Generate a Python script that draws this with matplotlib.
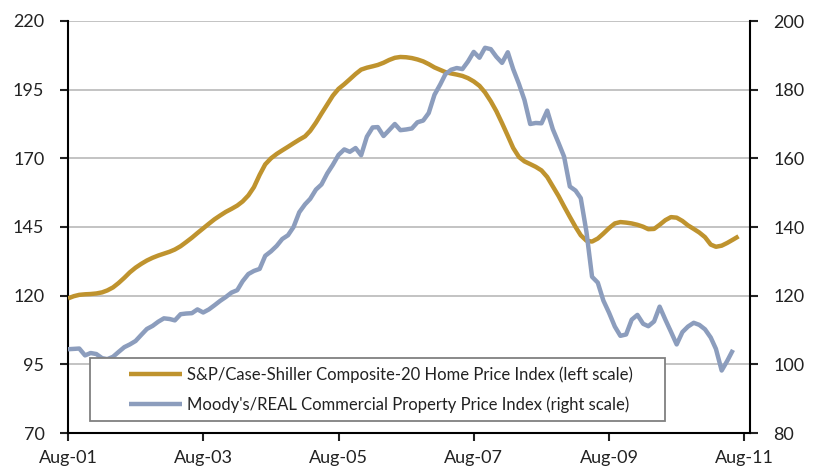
import matplotlib
matplotlib.use("Agg")
import matplotlib.pyplot as plt
import pandas as pd
from matplotlib.legend_handler import HandlerLine2D

plt.rcParams['font.family'] = ['Lato', 'DejaVu Sans']

start_date = '2001-08-01'

home_price = [
    119.0, 119.8, 120.3, 120.5, 120.6, 120.8, 121.2, 121.9, 123.0, 124.6,
    126.5, 128.5, 130.2, 131.6, 132.8, 133.8, 134.6, 135.3, 136.0, 136.8,
    138.0, 139.5, 141.1, 142.8, 144.5, 146.2, 147.8, 149.2, 150.5, 151.6,
    152.8, 154.3, 156.5, 159.5, 164.0, 167.8, 170.0, 171.6, 172.9, 174.2,
    175.5, 176.8, 178.0, 180.0, 183.0, 186.3, 189.6, 192.8, 195.3, 197.0,
    198.8, 200.7, 202.3, 203.0, 203.5, 204.0, 204.8, 205.8, 206.6, 206.9,
    206.8, 206.5, 206.0, 205.3, 204.3, 203.1, 202.2, 201.4, 200.9, 200.5,
    200.0, 199.2, 198.0, 196.4, 194.0, 190.8, 187.2, 182.8, 178.2, 173.8,
    170.5, 168.9, 167.9, 166.9, 165.6, 163.2, 159.8, 156.3, 152.5, 148.7,
    145.0, 142.0, 140.0, 139.7, 140.8, 142.6, 144.6, 146.3, 146.8, 146.6,
    146.3, 145.8, 145.1, 144.2, 144.3, 145.8, 147.5, 148.6, 148.4, 147.2,
    145.6, 144.3, 143.0, 141.3, 138.6, 137.8, 138.2, 139.2, 140.4, 141.6,
]

commercial = [
    104.4, 104.5, 104.6, 102.6, 103.3, 103.0, 101.8, 101.5, 102.2, 103.6,
    105.0, 105.8, 106.8, 108.6, 110.3, 111.2, 112.4, 113.4, 113.2, 112.8,
    114.6, 114.8, 114.9, 116.0, 115.1, 116.0, 117.2, 118.5, 119.6, 120.9,
    121.6, 124.2, 126.3, 127.2, 127.8, 131.6, 132.9, 134.5, 136.5, 137.6,
    140.0, 144.3, 146.6, 148.2, 150.9, 152.4, 155.6, 158.1, 161.0, 162.6,
    161.9, 163.0, 160.9, 166.3, 169.0, 169.1, 166.5, 168.2, 170.0, 168.2,
    168.4, 168.7, 170.5, 171.0, 173.2, 178.5, 181.5, 184.5, 185.8, 186.3,
    186.0, 188.2, 191.0, 189.3, 192.2, 191.8, 189.6, 187.8, 190.9, 186.0,
    181.7, 177.0, 170.0, 170.3, 170.2, 173.9, 168.5, 164.5, 160.5, 151.8,
    150.6, 148.4, 138.5, 125.5, 123.8, 118.6, 115.0, 111.0, 108.3, 108.7,
    113.0, 114.4, 111.8, 111.1, 112.5, 116.8, 113.0, 109.5, 105.8, 109.4,
    111.0, 112.1, 111.5, 110.2, 107.8, 104.5, 98.2, 101.0, 104.2,
]

left_ticks = [70, 95, 120, 145, 170, 195, 220]
right_ticks = [80, 100, 120, 140, 160, 180, 200]
x_tick_dates = ['2001-08-01', '2003-08-01', '2005-08-01', '2007-08-01',
                '2009-08-01', '2011-08-01']
x_tick_labels = ['Aug-01', 'Aug-03', 'Aug-05', 'Aug-07', 'Aug-09', 'Aug-11']

label_home = 'S&P/Case-Shiller Composite-20 Home Price Index (left scale)'
label_comm = "Moody's/REAL Commercial Property Price Index (right scale)"

gold = '#BF932E'
blue = '#8C9DBD'

dates_home = pd.date_range(start_date, periods=len(home_price), freq='MS')
dates_comm = pd.date_range(start_date, periods=len(commercial), freq='MS')

fig = plt.figure(figsize=(8.15, 4.71), dpi=100)
ax = fig.add_axes([68 / 815, 1 - 433 / 471, (750 - 68) / 815, (433 - 21) / 471])
ax2 = ax.twinx()

ax.set_ylim(70, 220)
ax2.set_ylim(80, 200)
ax.set_yticks(left_ticks)
ax2.set_yticks(right_ticks)
ax.set_xlim(pd.Timestamp('2001-08-01'), pd.Timestamp('2011-09-01'))
ax.set_xticks([pd.Timestamp(d) for d in x_tick_dates])
ax.set_xticklabels(x_tick_labels)

for t in left_ticks[1:]:
    ax.axhline(t, color='#BEBEBE', linewidth=1.3, zorder=0)

l1, = ax.plot(dates_home, home_price, color=gold, linewidth=3.2,
              solid_capstyle='butt', label=label_home, zorder=3)
l2, = ax2.plot(dates_comm, commercial, color=blue, linewidth=3.2,
               solid_capstyle='butt', label=label_comm, zorder=3)

for a in (ax, ax2):
    a.spines['top'].set_visible(False)
    for s in a.spines.values():
        s.set_linewidth(1.5)
        s.set_color('black')
ax.spines['right'].set_visible(False)
ax2.spines['left'].set_visible(False)
ax2.spines['bottom'].set_visible(False)

ax.tick_params(axis='y', direction='out', length=6, width=1.5, pad=11,
               labelsize=13, colors='#222222')
ax.tick_params(axis='x', direction='out', length=6, width=1.5, pad=6,
               labelsize=13, colors='#222222')
ax2.tick_params(axis='y', direction='out', length=6, width=1.5, pad=11,
                labelsize=13, colors='#222222')

hm = {l1: HandlerLine2D(xpad=1.85), l2: HandlerLine2D(xpad=1.85)}
leg = ax2.legend(handles=[l1, l2], loc='lower left',
                 bbox_to_anchor=(22 / 682, 12 / 412, 575 / 682, 64 / 412),
                 mode='expand', fontsize=12, frameon=True, fancybox=False,
                 handlelength=5.0, handletextpad=0.3, borderpad=0.5,
                 labelspacing=0.8, borderaxespad=0, handler_map=hm)
leg.get_frame().set_edgecolor('#808080')
leg.get_frame().set_linewidth(1.3)
leg.get_frame().set_facecolor('white')
leg.get_frame().set_alpha(1)
for txt in leg.get_texts():
    txt.set_color('#222222')

fig.savefig('out.png', dpi=100)
